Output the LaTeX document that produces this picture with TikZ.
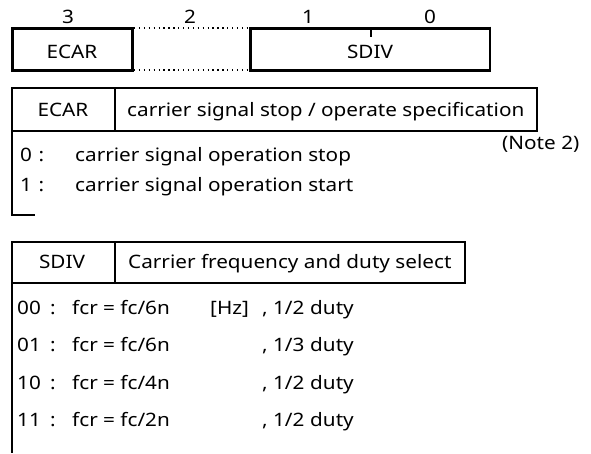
\documentclass[tikz,border=0pt]{standalone}
\usepackage{fontspec}
\setmainfont[FakeStretch=1.12]{Noto Sans}
\begin{document}
\begin{tikzpicture}[x=1pt,y=-1pt,
  txt/.style={inner sep=0pt, text height=13pt, text depth=0pt, font=\fontsize{18.5}{20}\selectfont},
  bitlbl/.style={txt, anchor=center},
  regline/.style={line width=3pt},
  tabline/.style={line width=1.5pt},
  dotline/.style={line width=1.3pt, dash pattern=on 1.3pt off 3.6pt}]
\useasboundingbox (0,0) rectangle (591,453);
% bit numbers
\node[bitlbl] (b3) at (68,17) {3};
\node[bitlbl] (b2) at (190,17) {2};
\node[bitlbl] (b1) at (308,17) {1};
\node[bitlbl] (b0) at (430,17) {0};
% register
\draw[regline] (12,28) rectangle (132,70);
\draw[dotline] (134,28) -- (250,28);
\draw[dotline] (134,70) -- (250,70);
\draw[regline] (490,28) -- (250,28) -- (250,70) -- (490,70);
\draw[line width=1.8pt] (490,26.5) -- (490,71.5);
\draw[line width=1.2pt] (371,28) -- (371,37);
\node[txt] (recar) at (72,52) {ECAR};
\node[txt] (rsdiv) at (370,52) {SDIV};
% ECAR table
\draw[tabline] (12,88) rectangle (537,131);
\draw[tabline] (115,88) -- (115,131);
\draw[tabline] (12,131) -- (12,215) -- (35,215);
\node[txt] (hecar) at (63,110) {ECAR};
\node[txt, anchor=west] (decar) at (127,110) {carrier signal stop / operate specification};
\node[txt, anchor=west] (note) at (502,143) {(Note 2)};
\node[txt, anchor=west] (e0k) at (20,155) {0};
\node[txt, anchor=west] (e0c) at (38.5,155) {:};
\node[txt, anchor=west] (e0v) at (75,155) {carrier signal operation stop};
\node[txt, anchor=west] (e1k) at (20,185) {1};
\node[txt, anchor=west] (e1c) at (38.5,185) {:};
\node[txt, anchor=west] (e1v) at (75,185) {carrier signal operation start};
% SDIV table
\draw[tabline] (12,242) rectangle (465,283);
\draw[tabline] (115,242) -- (115,283);
\draw[tabline] (12,283) -- (12,453);
\node[txt] (hsdiv) at (62,262) {SDIV};
\node[txt, anchor=west] (dsdiv) at (128,262) {Carrier frequency and duty select};
\foreach \k/\f/\d/\y in {00/6/2/308, 01/6/3/345, 10/4/2/383, 11/2/2/420}{
  \node[txt, anchor=west] (s\k k) at (17,\y) {\k};
  \node[txt, anchor=west] (s\k o) at (50,\y) {:};
  \node[txt, anchor=west] (s\k f) at (72,\y) {fcr = fc/\f n};
  \node[txt, anchor=west] (s\k c) at (262,\y) {, 1/\d};
  \node[txt, anchor=west] (s\k d) at (310,\y) {duty};
}
\node[txt, anchor=west] (hz) at (210,308) {[Hz]};
\end{tikzpicture}
\end{document}
